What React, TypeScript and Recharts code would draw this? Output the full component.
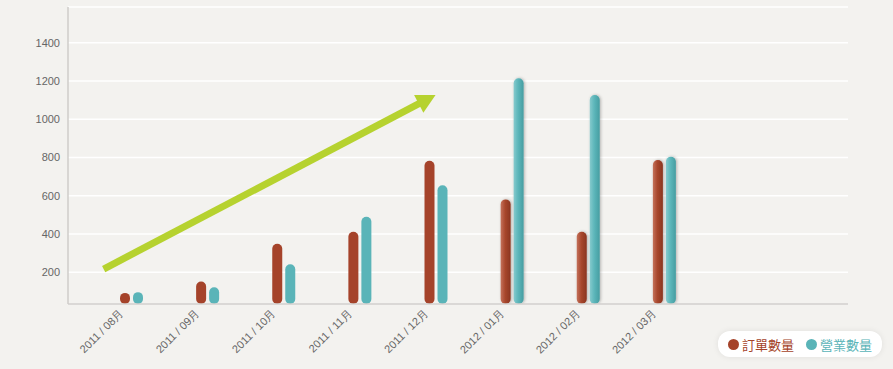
import { Bar, BarChart, CartesianGrid, Cell, ReferenceLine, XAxis, YAxis } from "recharts";

const categories = [
  "2011 / 08月",
  "2011 / 09月",
  "2011 / 10月",
  "2011 / 11月",
  "2011 / 12月",
  "2012 / 01月",
  "2012 / 02月",
  "2012 / 03月",
];
const orders = [92, 151, 349, 412, 783, 581, 412, 787];
const sales = [96, 121, 242, 490, 655, 1214, 1127, 804];
const yTicks = [200, 400, 600, 800, 1000, 1200, 1400];
const seriesNames = ["訂單數量", "營業數量"];
// trend arrow drawn over the chart (value at first and fifth month)
const trendFrom = 292;
const trendTo = 1127;

const RED = "#a5432a";
const TEAL = "#5ab4b8";
const GREEN = "#b6d22f";

const data = categories.map((month, i) => ({ month, orders: orders[i], sales: sales[i] }));

// 2012 bars have the glossy, shaded look
const shaded = (month: string) => month.startsWith("2012");

function MonthTick({ x, y, payload }: any) {
  return (
    <g transform={`translate(${x},${y})`}>
      <text
        x={-6.5}
        y={-3.5}
        textAnchor="end"
        transform="rotate(-45)"
        fill="#666"
        fontSize={11}
        fontFamily="'Liberation Sans', Arial, sans-serif"
      >
        {payload.value}
      </text>
    </g>
  );
}

function TrendArrow({ x1, y1, x2, y2 }: any) {
  if ([x1, y1, x2, y2].some((v) => typeof v !== "number" || isNaN(v))) return null;
  // pull the start a little to the left of the first month
  const sx = x1 - 0.09 * (x2 - x1);
  const sy = y1 - 0.09 * (y2 - y1);
  const len = Math.hypot(x2 - sx, y2 - sy);
  const ux = (x2 - sx) / len;
  const uy = (y2 - sy) / len;
  const px = -uy;
  const py = ux;
  const head = 19;
  const half = 10;
  const bx = x2 - ux * head;
  const by = y2 - uy * head;
  return (
    <g>
      <line x1={sx} y1={sy} x2={x2 - ux * (head - 4)} y2={y2 - uy * (head - 4)} stroke={GREEN} strokeWidth={7} />
      <polygon
        points={`${x2},${y2} ${bx + px * half},${by + py * half} ${bx - px * half},${by - py * half}`}
        fill={GREEN}
      />
    </g>
  );
}

function LegendBox() {
  const colors = [RED, TEAL];
  return (
    <div
      style={{
        position: "absolute",
        left: 718,
        top: 331,
        display: "flex",
        alignItems: "center",
        gap: 12,
        background: "#fff",
        borderRadius: 12,
        boxShadow: "0 0 6px rgba(0,0,0,0.08)",
        padding: "2px 10px",
        height: 22,
        fontFamily: "'Noto Sans CJK TC', sans-serif",
        fontSize: 13,
      }}
    >
      {seriesNames.map((name, i) => (
        <span key={name} style={{ display: "flex", alignItems: "center", color: colors[i] }}>
          <span
            style={{
              display: "inline-block",
              width: 11,
              height: 11,
              borderRadius: "50%",
              background: colors[i],
              marginRight: 3,
            }}
          />
          {name}
        </span>
      ))}
    </div>
  );
}

export default function App() {
  return (
    <div style={{ position: "absolute", left: 0, top: 0, width: 893, height: 369, background: "#f3f2ef" }}>
      <BarChart
        width={893}
        height={369}
        data={data}
        margin={{ top: 7, right: 45, bottom: 0, left: 0 }}
        barSize={10}
        barGap={3}
      >
        <defs>
          <linearGradient id="gloss-red" x1="0" y1="0" x2="1" y2="0">
            <stop offset="0%" stopColor="#c4725a" />
            <stop offset="45%" stopColor="#a8472d" />
            <stop offset="100%" stopColor="#8a3520" />
          </linearGradient>
          <linearGradient id="gloss-teal" x1="0" y1="0" x2="1" y2="0">
            <stop offset="0%" stopColor="#86cacd" />
            <stop offset="45%" stopColor="#5cb6ba" />
            <stop offset="100%" stopColor="#469da1" />
          </linearGradient>
          <filter id="bar-shadow" x="-100%" y="-10%" width="300%" height="120%">
            <feDropShadow dx="1" dy="0" stdDeviation="1.6" floodColor="#000" floodOpacity="0.28" />
          </filter>
        </defs>
        <CartesianGrid vertical={false} stroke="#ffffff" strokeWidth={1.5} />
        <XAxis
          dataKey="month"
          height={65}
          padding={{ left: 25, right: 146 }}
          tickLine={false}
          axisLine={{ stroke: "#cfcdca", strokeWidth: 1.5 }}
          tick={<MonthTick />}
          interval={0}
        />
        <YAxis
          width={68}
          domain={[34, 1587]}
          ticks={yTicks}
          allowDataOverflow
          tickLine={false}
          axisLine={{ stroke: "#cfcdca", strokeWidth: 1.5 }}
          tick={{ fill: "#666", fontSize: 11, fontFamily: "'Liberation Sans', Arial, sans-serif" }}
        />
        <Bar dataKey="orders" name={seriesNames[0]} fill={RED} radius={5} isAnimationActive={false}>
          {data.map((d) => (
            <Cell
              key={d.month}
              fill={shaded(d.month) ? "url(#gloss-red)" : RED}
              filter={shaded(d.month) ? "url(#bar-shadow)" : undefined}
            />
          ))}
        </Bar>
        <Bar dataKey="sales" name={seriesNames[1]} fill={TEAL} radius={5} isAnimationActive={false}>
          {data.map((d) => (
            <Cell
              key={d.month}
              fill={shaded(d.month) ? "url(#gloss-teal)" : TEAL}
              filter={shaded(d.month) ? "url(#bar-shadow)" : undefined}
            />
          ))}
        </Bar>
        <ReferenceLine
          segment={[
            { x: categories[0], y: trendFrom },
            { x: categories[4], y: trendTo },
          ]}
          ifOverflow="visible"
          shape={(p: any) => <TrendArrow {...p} />}
        />
      </BarChart>
      <LegendBox />
    </div>
  );
}
